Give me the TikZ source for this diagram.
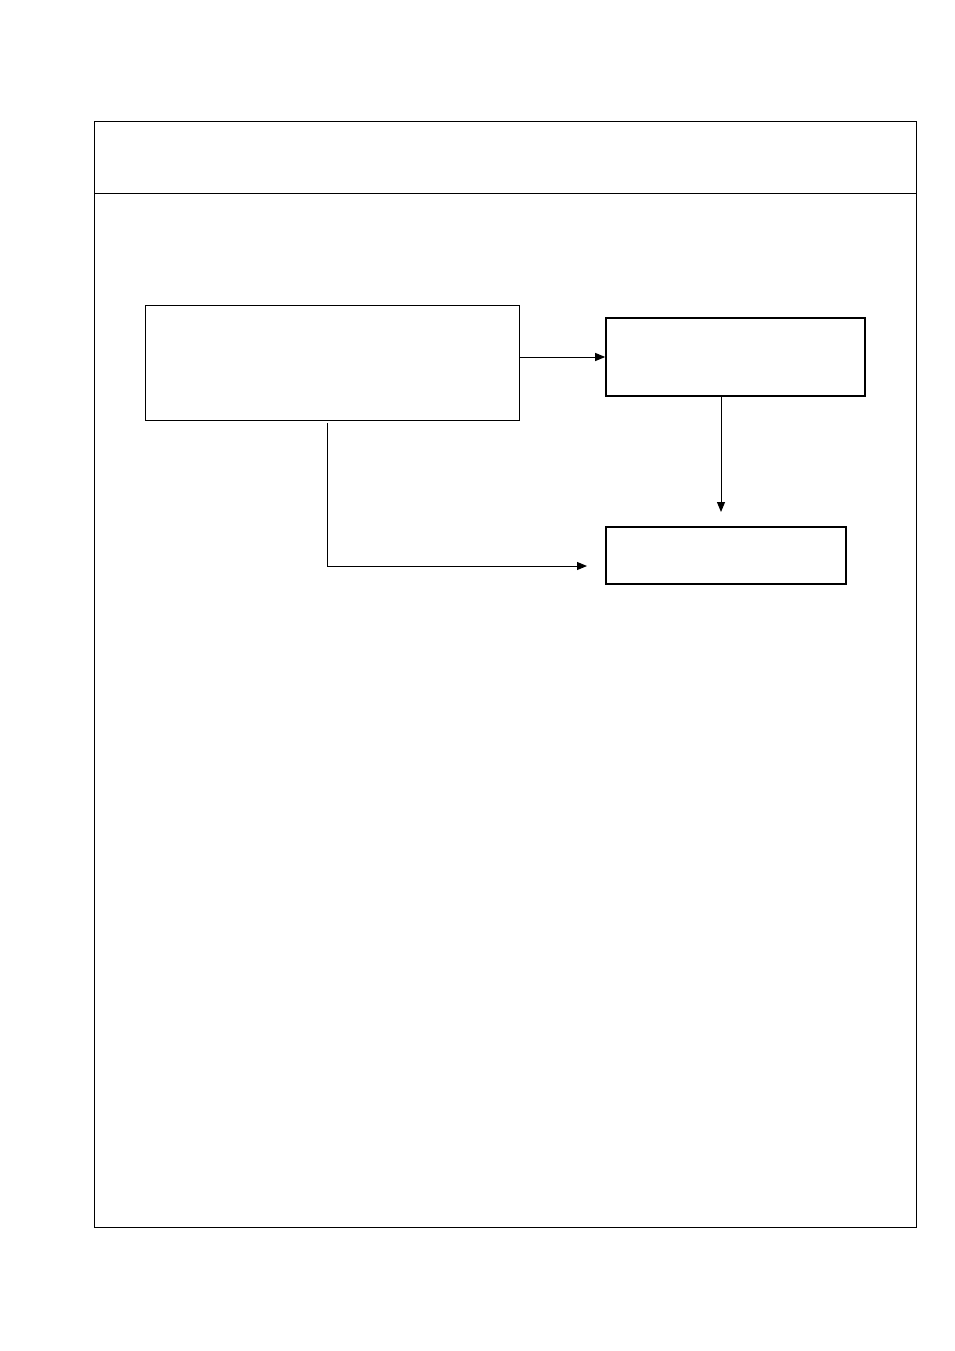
\documentclass[tikz,border=0pt]{standalone}
\usetikzlibrary{arrows.meta}
\begin{document}
\begin{tikzpicture}[x=1pt,y=-1pt,
  thinbox/.style={draw,line width=1pt,inner sep=0pt},
  thickbox/.style={draw,line width=1.6pt,inner sep=0pt},
  conn/.style={line width=1pt,-{Triangle[length=10pt,width=8pt]}}]
\useasboundingbox (0,0) rectangle (954,1351);
\fill[white] (0,0) rectangle (954,1351);
% outer frame
\draw[line width=1pt] (94,122) rectangle (916,1227);
\draw[line width=1pt] (94,194) -- (916,194);
% boxes
\node[thinbox,minimum width=374pt,minimum height=115pt] (A) at (332,362.5) {};
\node[thickbox,minimum width=259pt,minimum height=78pt] (B) at (735.5,357) {};
\node[thickbox,minimum width=240pt,minimum height=57pt] (C) at (726,555.5) {};
\coordinate (bend) at (327,566);
\coordinate (Cin) at (587,566);
\coordinate (Ctop) at (721,512);
\coordinate (Aout) at (327,423);
% connectors
\draw[conn] (A.east |- 0,357) -- (B.west |- 0,357);
\draw[conn] (B.south -| Ctop) -- (Ctop);
\draw[conn] (Aout) -- (bend) -- (Cin);
\end{tikzpicture}
\end{document}
